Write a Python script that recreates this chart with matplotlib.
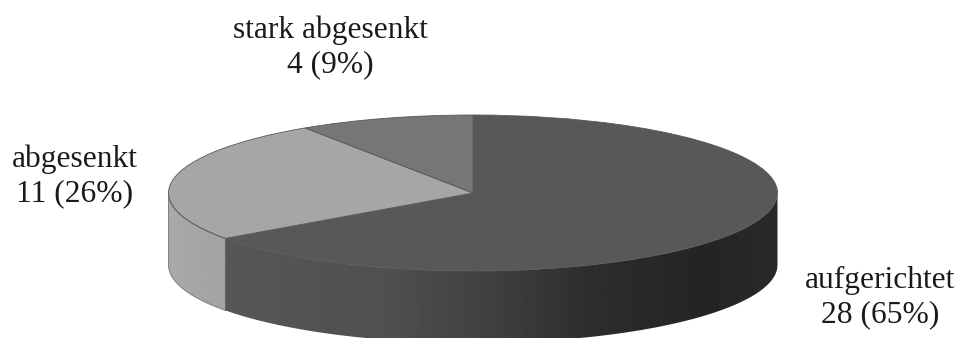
import matplotlib
matplotlib.use("Agg")
import matplotlib.pyplot as plt
import numpy as np
from matplotlib.patches import Polygon

categories = ["aufgerichtet", "abgesenkt", "stark abgesenkt"]
counts = [28, 11, 4]
percents = [65, 26, 9]
top_colors = ["#585858", "#a6a6a6", "#777675"]

W, H = 961, 338
CX, CY = 473, 193  # ellipse centre in pixels
RX, RY = 304.5, 78
DEPTH = 72 / RY  # side height, in units of the vertical radius

fig = plt.figure(figsize=(W / 100, H / 100), dpi=100)
ax = fig.add_axes([0, 0, 1, 1])

# top face, unit circle squashed by the axes limits
ax.pie(counts, colors=top_colors, startangle=90, counterclock=False,
       wedgeprops={"edgecolor": "#585858", "linewidth": 0.6})

fractions = np.array(counts) / sum(counts)
edges = 90 - 360 * np.concatenate([[0], np.cumsum(fractions)])

# wall shading runs left to right across the disc
u = np.linspace(-1, 1, 610)
dark_wall = np.interp(u, [-0.81, -0.3, 0.0, 0.4, 0.75, 1.0], [0x57, 0x50, 0x43, 0x2d, 0x25, 0x29])
light_wall = np.interp(u, [-1.0, -0.81], [0xa9, 0xa2])


def wall_polygon(a_start, a_end):
    t = np.radians(np.linspace(a_start, a_end, 120))
    x, y = np.cos(t), np.sin(t)
    return np.column_stack([np.r_[x, x[::-1]], np.r_[y, y[::-1] - DEPTH]])


# outer wall: only the front half of the rim is visible
walls = [(0, 0.0, edges[1], dark_wall), (1, edges[1], -180.0, light_wall)]
for i, a_start, a_end, shade in walls:
    poly = Polygon(wall_polygon(a_start, a_end), closed=True, facecolor="none", edgecolor="none",
                   transform=ax.transData)
    ax.add_patch(poly)
    im = ax.imshow(shade[np.newaxis, :], cmap="gray", vmin=0, vmax=255, aspect="auto",
                   extent=(-1, 1, -1 - DEPTH, 1), zorder=0.5, interpolation="bilinear")
    im.set_clip_path(poly)

ax.set_aspect("auto")
ax.set_xlim(-CX / RX, (W - CX) / RX)
ax.set_ylim((CY - H) / RY, CY / RY)
ax.set_axis_off()

# thin outline on the lighter part of the wall
rim = np.radians(np.linspace(edges[1], -180, 60))
ax.plot(np.r_[np.cos(rim), -1], np.r_[np.sin(rim) - DEPTH, 0], color="#808080", lw=0.7,
        zorder=1.5, solid_joinstyle="round")
ax.plot(np.cos(rim), np.sin(rim), color="#666666", lw=0.7, zorder=1.5)
seam = np.radians(edges[1])
ax.plot([np.cos(seam)] * 2, [np.sin(seam), np.sin(seam) - DEPTH], color="#666666", lw=0.7, zorder=1.5)

label_pos = [(880, 298), (75, 176), (330, 47.5)]
for name, n, pct, (px, py) in zip(categories, counts, percents, label_pos):
    ax.text((px - CX) / RX, (CY - py) / RY, f"{name}\n{n} ({pct}%)",
            ha="center", va="center", family="Liberation Serif",
            fontsize=22.7, color="#1a1a1a", linespacing=1.23)

fig.savefig("out.png", dpi=100)
